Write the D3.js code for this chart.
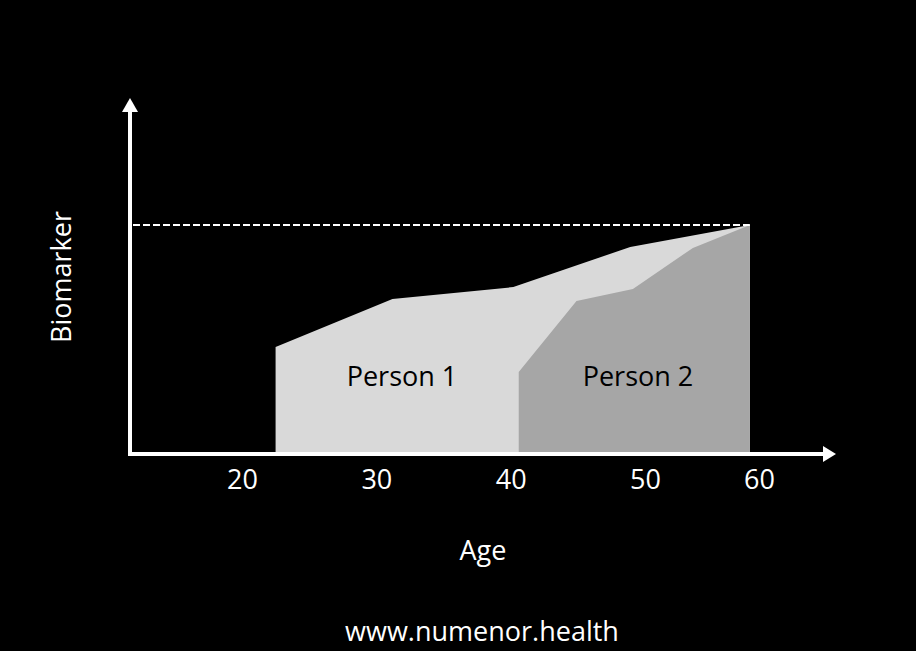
<!DOCTYPE html>
<html>
<head>
<meta charset="utf-8">
<script src="https://cdn.jsdelivr.net/npm/d3@7"></script>
<style>
  html, body { margin: 0; padding: 0; background: #000; }
  svg { display: block; font-family: "Open Sans", sans-serif; }
</style>
</head>
<body>
<div id="chart"></div>
<script>
// ages and biomarker level (0 = axis, 100 = dashed threshold)
const person1Ages = [22.5, 31.2, 40.2, 48.9, 59.2];
const person1Values = [46.7, 67.7, 72.9, 90.4, 100];
const person2Ages = [40.6, 44.9, 49.1, 54.2, 59.2];
const person2Values = [35.8, 66.8, 72.1, 90.0, 100];
const tickAges = [20, 30, 40, 50, 60];
const threshold = 100;

const width = 916, height = 651;
const originX = 130, originY = 454;
const fontSize = "27px";

const svg = d3.select('#chart')
  .append("svg")
    .attr("width", width)
    .attr("height", height);

svg.append("rect")
  .attr("width", width)
  .attr("height", height)
  .attr("fill", "#000");

// the 60 label sits a little closer than a linear axis would put it
const x = d3.scaleLinear()
  .domain([20, 50, 60])
  .range([242, 645, 759]);

const y = d3.scaleLinear()
  .domain([0, 100])
  .range([originY, 225]);

const area = d3.area()
  .x(d => x(d.age))
  .y0(y(0))
  .y1(d => y(d.value));

const p1 = person1Ages.map((a, i) => ({age: a, value: person1Values[i]}));
const p2 = person2Ages.map((a, i) => ({age: a, value: person2Values[i]}));

svg.append("path")
  .datum(p1)
  .attr("fill", "#d9d9d9")
  .attr("d", area);

svg.append("path")
  .datum(p2)
  .attr("fill", "#a6a6a6")
  .attr("d", area);

// dashed threshold line
svg.append("line")
  .attr("x1", originX + 3)
  .attr("x2", x(person1Ages[person1Ages.length - 1]))
  .attr("y1", y(threshold))
  .attr("y2", y(threshold))
  .attr("stroke", "#fff")
  .attr("stroke-width", 2)
  .attr("stroke-dasharray", "7 3");

// axes with arrow heads
svg.append("line")
  .attr("x1", originX).attr("x2", originX)
  .attr("y1", originY + 2).attr("y2", 110)
  .attr("stroke", "#fff").attr("stroke-width", 4);
svg.append("path")
  .attr("d", `M${originX - 8},112 L${originX},98 L${originX + 8},112 Z`)
  .attr("fill", "#fff");

svg.append("line")
  .attr("x1", originX - 2).attr("x2", 825)
  .attr("y1", originY).attr("y2", originY)
  .attr("stroke", "#fff").attr("stroke-width", 4);
svg.append("path")
  .attr("d", `M823,${originY - 8} L836,${originY} L823,${originY + 8} Z`)
  .attr("fill", "#fff");

// tick labels
const xAxis = svg.append("g")
  .attr("transform", `translate(0,${originY})`)
  .call(d3.axisBottom(x).tickValues(tickAges).tickSize(0).tickPadding(16));
xAxis.select(".domain").remove();
xAxis.selectAll("text")
  .attr("fill", "#fff")
  .style("font-family", '"Open Sans", sans-serif')
  .style("font-size", fontSize);

// area labels
svg.append("text")
  .attr("x", 402)
  .attr("y", 386)
  .attr("text-anchor", "middle")
  .attr("fill", "#000")
  .style("font-size", fontSize)
  .text("Person 1");

svg.append("text")
  .attr("x", 638)
  .attr("y", 386)
  .attr("text-anchor", "middle")
  .attr("fill", "#000")
  .style("font-size", fontSize)
  .text("Person 2");

// axis titles
svg.append("text")
  .attr("transform", "translate(71,277) rotate(-90)")
  .attr("text-anchor", "middle")
  .attr("fill", "#fff")
  .style("font-size", fontSize)
  .text("Biomarker");

svg.append("text")
  .attr("x", 483)
  .attr("y", 560)
  .attr("text-anchor", "middle")
  .attr("fill", "#fff")
  .style("font-size", fontSize)
  .text("Age");

svg.append("text")
  .attr("x", 482)
  .attr("y", 641)
  .attr("text-anchor", "middle")
  .attr("fill", "#fff")
  .style("font-size", fontSize)
  .text("www.numenor.health");
</script>
</body>
</html>
